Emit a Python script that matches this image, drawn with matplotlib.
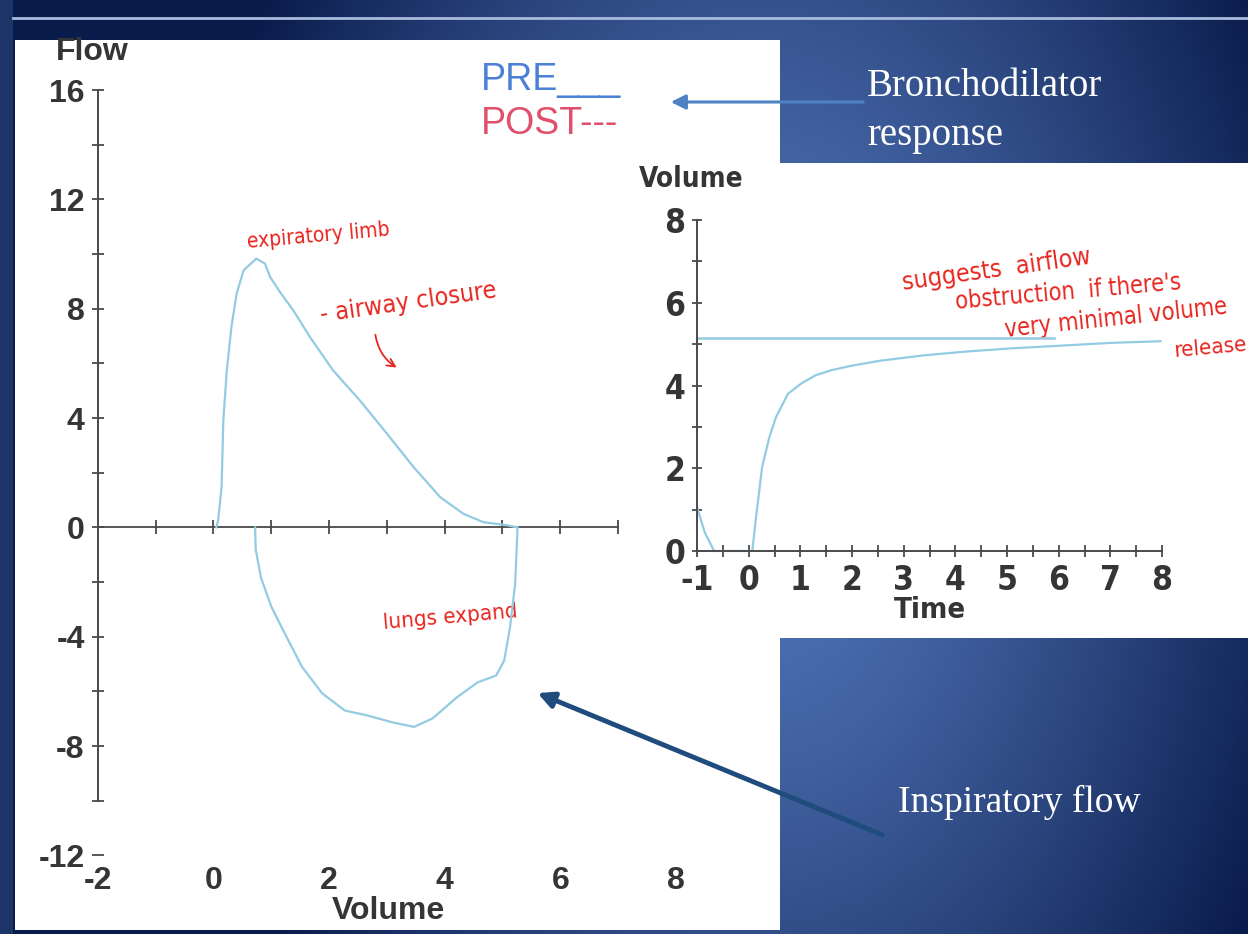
import numpy as np
import matplotlib
matplotlib.use("Agg")
import matplotlib.pyplot as plt
from matplotlib import font_manager
from matplotlib.patches import Rectangle

W, H = 1248, 934

# flow-volume loop (litres, litres/s)
exp_volume = [0.05, 0.08, 0.14, 0.17, 0.23, 0.31, 0.40, 0.52, 0.74, 0.89, 0.98, 1.15,
              1.38, 1.67, 2.07, 2.53, 3.00, 3.46, 3.92, 4.32, 4.67, 5.07, 5.25]
exp_flow = [0, 0.26, 1.47, 3.9, 5.74, 7.33, 8.55, 9.40, 9.83, 9.65, 9.16, 8.61,
            7.94, 6.96, 5.74, 4.65, 3.43, 2.21, 1.11, 0.50, 0.19, 0.08, 0]
insp_volume = [0.72, 0.73, 0.82, 1.0, 1.18, 1.53, 1.88, 2.27, 2.66, 3.09, 3.47, 3.79,
               4.21, 4.57, 4.89, 5.03, 5.13, 5.22, 5.26]
insp_flow = [0, -0.8, -1.83, -2.9, -3.66, -5.1, -6.07, -6.7, -6.88, -7.13, -7.3, -6.99,
             -6.22, -5.67, -5.42, -4.87, -3.66, -2.05, 0]

flow_ticks = [-12, -8, -4, 0, 4, 8, 12, 16]
flow_minor = [-10, -6, -2, 2, 6, 10, 14]
volume_ticks = [-2, 0, 2, 4, 6, 8]
volume_axis_ticks = [-1, 0, 1, 2, 3, 4, 5, 6, 7]

# volume-time curve
time_s = [-1.0, -0.85, -0.67, -0.4, 0.0, 0.07, 0.15, 0.26, 0.4, 0.53, 0.76, 1.03,
          1.3, 1.6, 2.0, 2.55, 3.4, 4.2, 5.1, 6.0, 7.0, 7.97]
volume_l = [1.06, 0.45, 0.0, 0.0, 0.0, 0.0, 0.9, 2.03, 2.75, 3.24, 3.8, 4.06,
            4.25, 4.37, 4.48, 4.6, 4.73, 4.82, 4.9, 4.96, 5.03, 5.07]
plateau_time = [-1.0, 5.9]
plateau_volume = [5.15, 5.15]

time_ticks = [-1, 0, 1, 2, 3, 4, 5, 6, 7, 8]
time_minor = [-0.5, 0.5, 1.5, 2.5, 3.5, 4.5, 5.5, 6.5, 7.5]
vt_ticks = [0, 2, 4, 6, 8]
vt_minor = [1, 3, 5, 7]

plt.rcParams["font.family"] = ["Liberation Sans", "DejaVu Sans"]
plt.rcParams["axes.unicode_minus"] = False

curve_color = "#93cbe3"
axis_color = "#4a4a4a"
label_color = "#353535"
ink = "#e8251f"


def find_condensed(bold):
    # any narrow/condensed face that happens to be installed
    for f in font_manager.fontManager.ttflist:
        narrowish = ("Narrow" in f.name or "Condensed" in f.name
                     or str(f.stretch) in ("condensed", "semi-condensed", "extra-condensed"))
        w = f.weight if isinstance(f.weight, int) else (700 if "bold" in str(f.weight) else 400)
        if narrowish and f.style == "normal" and ((w >= 600) == bold):
            return f.fname
    return None


def narrow_font(size, bold=True):
    path = find_condensed(bold)
    if path:
        return font_manager.FontProperties(fname=path, size=size)
    return font_manager.FontProperties(family="Liberation Sans", size=size,
                                       weight="bold" if bold else "normal")


def box(x0, y0, x1, y1):
    # pixel box (top-left origin) -> figure fraction
    return [x0 / W, 1 - y1 / H, (x1 - x0) / W, (y1 - y0) / H]


fig = plt.figure(figsize=(W / 100, H / 100), dpi=100)

# slide background
bg = fig.add_axes([0, 0, 1, 1])
yy, xx = np.mgrid[0:H, 0:W]
r = np.sqrt(((xx - 760) / 520.0) ** 2 + ((yy - 450) / 800.0) ** 2)
t = np.clip(r / 1.1, 0, 1) ** 1.3
c0 = np.array([0x54, 0x79, 0xbd]) / 255
c1 = np.array([0x0a, 0x1c, 0x4c]) / 255
img = c0 * (1 - t[..., None]) + c1 * t[..., None]
bg.imshow(img, extent=[0, W, H, 0], aspect="auto", interpolation="bilinear")

bg.add_patch(Rectangle((0, 0), 13, H, color="#1c3468", lw=0))
bg.plot([13, W], [18, 18], color="#a9bbdd", lw=2)
bg.add_patch(Rectangle((15, 40), 765, 890, color="white", lw=0))
bg.add_patch(Rectangle((780, 163), 468, 475, color="white", lw=0))
shade = np.linspace(1.0, 0.55, 60) ** 1.5
shade_img = np.dstack([shade, shade, shade]).repeat(2, axis=0)
bg.imshow(shade_img, extent=[1190, 1244, 638, 163], aspect="auto", interpolation="bilinear")
bg.set_xlim(0, W)
bg.set_ylim(H, 0)
bg.axis("off")

# slide text and arrows
bg.text(867, 96, "Bronchodilator", family="Liberation Serif", fontweight="normal",
        fontsize=28, color="white", va="baseline")
bg.text(867, 145, "response", family="Liberation Serif", fontweight="normal",
        fontsize=28, color="white", va="baseline")
bg.text(898, 812, "Inspiratory flow", family="Liberation Serif", fontweight="normal",
        fontsize=27, color="white", va="baseline")
bg.annotate("", xy=(668, 102), xytext=(866, 102),
            arrowprops=dict(arrowstyle="-|>", color="#4f82c4", lw=2.2, mutation_scale=22))
bg.annotate("", xy=(535, 692), xytext=(885, 836),
            arrowprops=dict(arrowstyle="-|>", color="#1f4b7d", lw=3.5, mutation_scale=24))

bg.text(481, 80, "PRE___", fontsize=27, fontweight="normal", color="#4a80d6", va="center")
bg.text(481, 124, "POST---", fontsize=27, fontweight="normal", color="#e0506c", va="center")

# handwritten notes
notes = [
    ("expiratory limb", 318, 236, 5, 15),
    ("- airway closure", 408, 303, 8, 18),
    ("lungs expand", 450, 617, 5, 16),
    ("suggests  airflow", 997, 270, 8, 18),
    ("obstruction  if there's", 1068, 292, 5, 17),
    ("very minimal volume", 1116, 318, 6, 17),
    ("release", 1210, 348, 5, 16),
]
for txt, x, y, rot, size in notes:
    bg.text(x, y, txt, fontproperties=narrow_font(size, bold=False), color=ink,
            rotation=rot, ha="center", va="center", rotation_mode="anchor")
bg.annotate("", xy=(399, 369), xytext=(375, 332),
            arrowprops=dict(arrowstyle="->", color=ink, lw=1.3, mutation_scale=14,
                            connectionstyle="arc3,rad=0.25"))

# flow-volume chart
ax1 = fig.add_axes(box(15, 40, 780, 930))
ax1.patch.set_alpha(0)
ax1.set_xlim(-3.434, 9.801)
ax1.set_ylim(-14.73, 17.83)
ax1.spines["left"].set_position(("data", -2))
ax1.spines["left"].set_bounds(-10, 16)
ax1.spines["left"].set_color(axis_color)
ax1.spines["left"].set_linewidth(1.4)
ax1.spines["bottom"].set_position(("data", -12.2))
ax1.spines["bottom"].set_visible(False)
ax1.spines["top"].set_visible(False)
ax1.spines["right"].set_visible(False)
ax1.set_yticks(flow_ticks)
ax1.set_yticks(flow_minor, minor=True)
ax1.set_xticks(volume_ticks)
ax1.tick_params(axis="y", which="both", direction="inout", length=9, width=1.3,
                color=axis_color, labelsize=23, labelcolor=label_color, pad=5)
ax1.tick_params(axis="x", length=0, pad=4, labelsize=23, labelcolor=label_color)
for lbl in ax1.get_xticklabels() + ax1.get_yticklabels():
    lbl.set_fontweight("bold")

ax1.plot([-2, 7], [0, 0], color=axis_color, lw=1.3)
ax1.plot(volume_axis_ticks, [0] * len(volume_axis_ticks), ls="none", marker="|",
         ms=10, mew=1.3, color=axis_color)
ax1.plot(exp_volume, exp_flow, color=curve_color, lw=1.6)
ax1.plot(insp_volume, insp_flow, color=curve_color, lw=1.6)
ax1.text(-2.10, 17.39, "Flow", fontsize=23, fontweight="bold", color=label_color,
         ha="center", va="center")
ax1.text(3.02, -14.03, "Volume", fontsize=23, fontweight="bold", color=label_color,
         ha="center", va="center")

# volume-time chart
ax2 = fig.add_axes(box(630, 163, 1240, 638))
ax2.patch.set_alpha(0)
ax2.set_xlim(-2.297, 9.508)
ax2.set_ylim(-2.103, 9.378)
ax2.spines["left"].set_position(("data", -1))
ax2.spines["left"].set_bounds(0, 8)
ax2.spines["bottom"].set_position(("data", 0))
ax2.spines["bottom"].set_bounds(-1, 8)
for side in ["left", "bottom"]:
    ax2.spines[side].set_color(axis_color)
    ax2.spines[side].set_linewidth(1.4)
ax2.spines["top"].set_visible(False)
ax2.spines["right"].set_visible(False)
ax2.set_xticks(time_ticks)
ax2.set_xticks(time_minor, minor=True)
ax2.set_yticks(vt_ticks)
ax2.set_yticks(vt_minor, minor=True)
ax2.tick_params(axis="x", which="both", direction="inout", length=9, width=1.3,
                color=axis_color, labelcolor=label_color, pad=5)
ax2.tick_params(axis="y", which="both", direction="inout", length=7, width=1.3,
                color=axis_color, labelcolor=label_color, pad=5)
tick_fp = narrow_font(24)
for lbl in ax2.get_xticklabels() + ax2.get_yticklabels():
    lbl.set_fontproperties(tick_fp)

ax2.plot(time_s, volume_l, color=curve_color, lw=1.6)
ax2.plot(plateau_time, plateau_volume, color=curve_color, lw=1.8)
ax2.text(-1.117, 9.0, "Volume", fontproperties=narrow_font(20),
         color=label_color, ha="center", va="center")
ax2.text(3.507, -1.43, "Time", fontproperties=narrow_font(21),
         color=label_color, ha="center", va="center")

fig.savefig("out.png", dpi=100)
